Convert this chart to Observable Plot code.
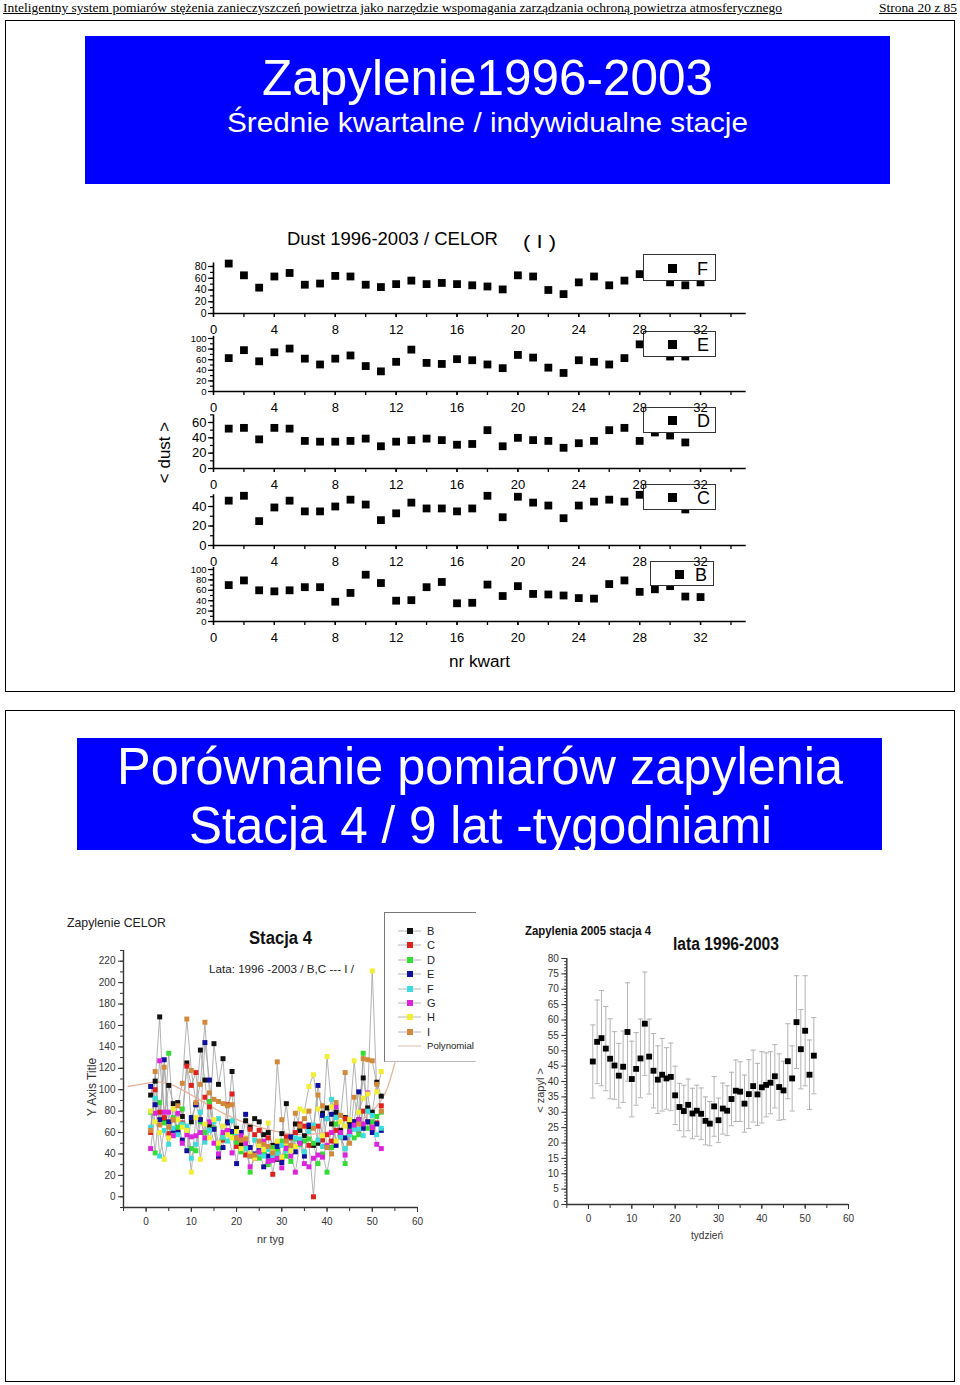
<!DOCTYPE html>
<html><head><meta charset="utf-8">
<script src="https://cdn.jsdelivr.net/npm/d3@7"></script>
<script src="https://cdn.jsdelivr.net/npm/@observablehq/plot@0.6"></script>
<style>
body{margin:0;background:#fff;}
#page{position:relative;width:960px;height:1385px;overflow:hidden;font-family:"Liberation Sans",Arial,sans-serif;}
.abs{position:absolute;white-space:nowrap;line-height:1;}
</style></head>
<body><div id="page"></div>
<script>
// ---------------- DATA ----------------
// Top chart: quarterly means (nr kwart 1..32), null = hidden behind legend
const stationF = [85,65,44,63,69,49,51,64,63,49,45,50,56,50,52,50,48,46,41,65,63,40,33,53,63,48,56,67,null,53,48,53];
const stationE = [63,78,57,74,81,62,51,62,68,48,38,56,79,54,52,61,59,51,44,69,64,45,35,59,56,51,63,89,null,66,66,null];
const stationD = [52,53,38,53,52,36,35,35,36,39,29,35,37,39,37,31,32,50,29,40,37,36,27,33,36,50,53,36,47,43,34,null];
const stationC = [46,51,25,39,46,35,35,40,47,42,26,33,44,38,38,35,38,51,29,50,44,41,28,41,45,47,45,52,null,null,37,null];
const stationB = [70,79,60,58,60,66,66,38,55,90,74,40,41,66,76,35,36,71,49,68,53,52,50,45,44,72,79,57,62,68,48,47];
const quarterTicks = [0,4,8,12,16,20,24,28,32];
const quarterMinor = [0,2,4,6,8,10,12,14,16,18,20,22,24,26,28,30,32,34];

// Bottom-left chart: weekly values (nr tyg 1..52) per station B..I
const seriesNames = ["B","C","D","E","F","G","H","I"];
const seriesColors = ["#111111","#e0221f","#36dc36","#10109e","#3adcdc","#dc24dc","#f2ee34","#d28a3a"];
const stB = [95,108,168,73,104,87,88,75,125,70,86,137,109,67,143,105,129,70,117,64,49,71,65,73,70,58,60,48,35,59,87,46,68,62,57,65,48,50,78,83,68,79,62,74,68,70,72,111,83,79,107,94];
const stC = [60,100,79,74,59,72,62,69,122,104,116,72,93,84,64,37,53,86,96,47,53,39,63,58,62,51,55,21,50,36,56,55,60,68,66,48,0,66,53,58,52,62,56,73,60,66,62,80,70,65,69,85];
const stD = [79,41,88,69,134,74,65,82,62,45,43,70,60,89,64,46,55,61,60,51,42,50,23,38,36,42,30,46,43,52,38,33,54,49,52,54,50,31,40,23,46,68,56,31,62,55,58,134,64,70,75,79];
const stE = [103,86,72,128,70,62,60,53,43,74,86,72,144,109,63,38,46,69,61,31,60,77,46,40,43,28,38,40,47,32,48,56,42,51,38,67,65,104,76,73,77,48,58,55,66,70,98,64,70,60,68,62];
const stF = [65,92,38,62,49,64,58,68,66,36,49,79,51,62,70,73,56,52,71,58,54,45,38,53,40,38,44,37,40,48,43,44,55,54,42,61,67,53,47,73,91,74,56,45,58,63,63,57,80,76,58,64];
const stG = [45,78,127,79,79,57,78,50,58,56,57,60,55,70,50,40,60,62,41,55,57,50,28,36,42,52,33,34,36,27,45,38,23,50,31,28,36,39,37,48,60,84,60,39,61,67,72,68,97,65,49,45];
const stH = [80,70,60,35,55,82,72,65,62,23,74,35,68,55,72,50,66,58,55,61,45,55,40,36,48,44,69,42,52,37,50,43,47,82,80,103,114,82,57,131,84,52,70,66,72,127,79,92,96,211,98,117];
const stI = [62,117,67,121,65,72,85,106,166,118,88,105,163,97,91,89,87,85,86,55,53,54,38,39,52,49,47,41,126,72,52,48,78,66,73,80,64,95,85,46,40,88,76,116,50,93,68,129,128,127,105,80];
const polyX = [-4,0,3,6,10,14,18,22,26,30,34,38,42,46,50,53,55];
const polyY = [103,106,107,104,95,85,76,69,64,60,58,59,62,68,80,98,125];
const weekTicks = [0,10,20,30,40,50,60];
const weekMinor = [-5,0,5,10,15,20,25,30,35,40,45,50,55,60];
const dustTicks = [0,20,40,60,80,100,120,140,160,180,200,220];
const dustMinor = [-10,0,10,20,30,40,50,60,70,80,90,100,110,120,130,140,150,160,170,180,190,200,210,220,230];

// Bottom-right chart: weekly mean and standard deviation (tydzień 1..52)
const meanZapyl = [46.5,52.9,54.1,50.7,47.4,45.2,41.9,44.8,56.1,40.8,44.1,47.5,58.8,48.1,43.5,40.6,42.2,41,41.5,35.5,31.7,30.4,32.4,29.6,30.5,29.5,27.2,26.3,31.9,27.4,31.2,30.5,34.3,37,36.7,32.8,35.9,38.5,35.8,38.1,38.9,39.6,41.7,38.2,37.1,46.6,41,59.3,50.5,56.5,42.2,48.4];
const sdZapyl = [11.9,13.6,15.5,13.7,13,11,10.5,11.6,16,12.3,11.8,12.8,16.8,12.2,12.1,11,11.8,10,11,9.5,7.7,8.4,8.4,8.2,8.3,8.4,7.8,7.2,9.7,7.2,8.3,8.1,8.7,10,9.7,9.3,11.2,11.7,10.1,11.6,10.4,10.1,10.3,10.8,9.5,12.2,10.6,15.1,12.9,17.9,11.3,12.4];
const zapylTicks = [0,5,10,15,20,25,30,35,40,45,50,55,60,65,70,75,80];
const zapylMinor = d3.range(0,81,1);

// ---------------- LAYOUT HELPERS ----------------
const page = document.getElementById("page");
const SANS = '"Liberation Sans", Arial, sans-serif';
function place(el, left, top){el.style.position="absolute";el.style.left=left+"px";el.style.top=top+"px";page.append(el);return el;}
function txt(str, o){
  const d=document.createElement("div");d.className="abs";d.textContent=str;
  d.style.fontSize=o.size+"px";d.style.fontFamily=o.family||SANS;
  if(o.bold)d.style.fontWeight="bold";
  d.style.color=o.color||"#000";
  if(o.underline)d.style.textDecoration="underline";
  place(d,o.x,o.y-0.86*o.size);
  if(o.w){const w=d.getBoundingClientRect().width;d.style.transformOrigin="0 0";d.style.transform=`scaleX(${o.w/w})`;}
  return d;
}
function vtxt(str,o){
  const d=document.createElement("div");d.className="abs";d.textContent=str;
  d.style.fontSize=o.size+"px";d.style.fontFamily=SANS;d.style.color=o.color||"#000";
  page.append(d);d.style.position="absolute";
  const r=d.getBoundingClientRect();
  d.style.left=(o.cx-r.width/2)+"px";d.style.top=(o.cy-r.height/2)+"px";
  d.style.transform="rotate(-90deg)";
  return d;
}
function box(l,t,w,h,css){const d=document.createElement("div");d.style.width=w+"px";d.style.height=h+"px";Object.assign(d.style,css);return place(d,l,t);}

// page header
txt("Inteligentny system pomiarów stężenia zanieczyszczeń powietrza jako narzędzie wspomagania zarządzania ochroną powietrza atmosferycznego",{x:3,y:12,size:13,family:'"Liberation Serif", "Times New Roman", serif',underline:true,w:779});
txt("Strona 20 z 85",{x:879,y:12,size:13,family:'"Liberation Serif", "Times New Roman", serif',underline:true,w:78});

// frames and banners
box(5,20,948,670,{border:"1.5px solid #000"});
box(5,710,948,670,{border:"1.5px solid #000"});
box(85,36,805,148,{background:"#0000ff"});
box(77,738,805,112,{background:"#0000ff"});
txt("Zapylenie1996-2003",{x:262,y:96,size:50,color:"#fff",w:451});
txt("Średnie kwartalne / indywidualne stacje",{x:227,y:133,size:28,color:"#fff",w:521});
txt("Porównanie pomiarów  zapylenia",{x:117,y:785,size:52,color:"#fff",w:726});
txt("Stacja 4 / 9 lat -tygodniami",{x:189,y:844,size:52,color:"#fff",w:583});

// ---------------- TOP CHART ----------------
txt("Dust 1996-2003 / CELOR",{x:287,y:245,size:19,w:211});
txt("( I )",{x:523,y:248,size:19,w:33});
txt("nr kwart",{x:449,y:668,size:16,w:61});
vtxt("< dust >",{cx:165,cy:452,size:17});

const panels = [
  {name:"F",values:stationF,ticks:[0,20,40,60,80],minor:[0,10,20,30,40,50,60,70,80],max:80,axisTop:86,y0:313,yTop:266,fs:10.5,box:[643,254,73,27]},
  {name:"E",values:stationE,ticks:[0,20,40,60,80,100],minor:[0,10,20,30,40,50,60,70,80,90,100],max:100,axisTop:104,y0:391,yTop:338,fs:9.5,box:[643,331,73,26]},
  {name:"D",values:stationD,ticks:[0,20,40,60],minor:[0,10,20,30,40,50,60,70],max:60,axisTop:70,y0:468,yTop:422,fs:13,box:[643,407,73,26]},
  {name:"C",values:stationC,ticks:[0,20,40],minor:[0,10,20,30,40,50],max:40,axisTop:52,y0:545,yTop:506,fs:13,box:[643,484,73,26]},
  {name:"B",values:stationB,ticks:[0,20,40,60,80,100],minor:[0,10,20,30,40,50,60,70,80,90,100],max:100,axisTop:104,y0:621,yTop:569,fs:9.5,box:[650,561,64,25]}
];
function panelPlot(P, marks, noAxes){
  const mt=26, mb=30, h=P.y0-P.yTop;
  const svg=Plot.plot({
    width:620,height:h+mt+mb,marginLeft:63,marginRight:24.3,marginTop:mt,marginBottom:mb,
    x:{domain:[0,35],axis:noAxes?null:undefined},y:{domain:[0,P.max],axis:noAxes?null:undefined},
    style:{background:"transparent",fontFamily:SANS,fontSize:"13px",color:"#000",overflow:"visible"},
    marks});
  return place(svg,150,P.yTop-mt);
}
// layer 1: points
for(const P of panels){
  const data=P.values.map((v,i)=>({q:i+1,v})).filter(d=>d.v!=null);
  panelPlot(P,[Plot.dot(data,{x:"q",y:"v",symbol:"square",fill:"#000",r:4.4})],true);
}
// layer 2: legend boxes
for(const P of panels){
  const b=box(P.box[0],P.box[1],P.box[2],P.box[3],{background:"#fff",border:"1.2px solid #333",boxSizing:"border-box"});
  const sq=document.createElement("div");Object.assign(sq.style,{position:"absolute",left:"24px",top:(P.box[3]/2-5)+"px",width:"9px",height:"9px",background:"#000"});b.append(sq);
  const lab=document.createElement("div");lab.textContent=P.name;Object.assign(lab.style,{position:"absolute",left:(P.box[2]-20)+"px",top:(P.box[3]/2-10)+"px",fontSize:"18px",fontFamily:SANS,lineHeight:"20px"});b.append(lab);
}
// layer 3: axes (drawn over the legend boxes, as in the original)
for(const P of panels){
  panelPlot(P,[
    Plot.ruleY([0],{stroke:"#000",strokeWidth:1.6}),
    Plot.ruleX([0],{y1:0,y2:P.axisTop,stroke:"#000",strokeWidth:1.6}),
    Plot.axisX(quarterMinor,{tickSize:4,tickFormat:()=>"",label:null,strokeWidth:1.3}),
    Plot.axisX(quarterTicks,{tickSize:4,tickPadding:7,label:null,strokeWidth:1.3}),
    Plot.axisY(P.minor,{tickSize:3,tickFormat:()=>"",label:null,strokeWidth:1.2}),
    Plot.axisY(P.ticks,{tickSize:5,tickPadding:2,label:null,strokeWidth:1.2,fontSize:P.fs})
  ],false);
}

// ---------------- BOTTOM LEFT CHART ----------------
txt("Zapylenie CELOR",{x:67,y:927,size:13,w:99,color:"#222"});
txt("Stacja 4",{x:249,y:944,size:18,bold:true,w:63,color:"#111"});
txt("Lata: 1996 -2003  / B,C --- I /",{x:209,y:974,size:11.5,w:145,color:"#222"});
txt("nr tyg",{x:257,y:1243,size:11,w:27,color:"#333"});
vtxt("Y Axis Title",{cx:92,cy:1087,size:12,color:"#333"});

const stations=[stB,stC,stD,stE,stF,stG,stH,stI];
const weekly=[];
stations.forEach((arr,k)=>arr.forEach((v,i)=>weekly.push({s:seriesNames[k],w:i+1,v})));
const poly=polyX.map((x,i)=>({x,y:polyY[i]}));
const left=Plot.plot({
  width:382,height:317,marginLeft:78,marginRight:10,marginTop:20,marginBottom:40,
  x:{domain:[-5,60]},y:{domain:[-10,230]},
  color:{domain:seriesNames,range:seriesColors},
  style:{background:"transparent",fontFamily:SANS,fontSize:"10px",color:"#333",overflow:"visible"},
  marks:[
    Plot.line(weekly,{x:"w",y:"v",z:"s",stroke:"#a0a0a0",strokeWidth:0.8}),
    Plot.line(poly,{x:"x",y:"y",curve:"natural",stroke:"#e8b29a",strokeWidth:1.3}),
    Plot.dot(weekly,{x:"w",y:"v",symbol:"square",fill:"s",r:2.8}),
    Plot.ruleY([-10],{stroke:"#333",strokeWidth:1.4}),
    Plot.ruleX([-5],{y1:-10,y2:230,stroke:"#333",strokeWidth:1.4}),
    Plot.axisX(weekMinor,{y:-10,tickSize:4,tickFormat:()=>"",label:null}),
    Plot.axisX(weekTicks,{tickSize:5,tickPadding:5,label:null}),
    Plot.axisY(dustMinor,{x:-5,tickSize:3,tickFormat:()=>"",label:null}),
    Plot.axisY(dustTicks,{tickSize:5,tickPadding:3,label:null})
  ]});
place(left,45,930);

// legend of left chart
const lg=box(384,912,92,150,{borderLeft:"1px solid #777",borderTop:"1px solid #777",borderBottom:"1px solid #bbb",background:"#fff",overflow:"hidden",boxSizing:"border-box"});
const legendItems=seriesNames.map((n,i)=>({n,c:seriesColors[i]})).concat([{n:"Polynomial",c:null}]);
legendItems.forEach((it,i)=>{
  const row=document.createElement("div");
  Object.assign(row.style,{position:"absolute",left:"12px",top:(11+i*14.4)+"px",height:"14px",whiteSpace:"nowrap",fontSize:it.c?"11px":"9.6px",fontFamily:SANS,color:"#222",lineHeight:"14px"});
  const sw=document.createElementNS("http://www.w3.org/2000/svg","svg");sw.setAttribute("width","26");sw.setAttribute("height","14");sw.style.verticalAlign="top";
  sw.innerHTML=it.c?`<line x1="1" x2="24" y1="7" y2="7" stroke="#b8b8b8" stroke-width="1"/><rect x="10" y="4" width="6" height="6" fill="${it.c}"/>`:`<line x1="1" x2="24" y1="7" y2="7" stroke="#e8c8b8" stroke-width="1.2"/>`;
  row.append(sw);const t=document.createElement("span");t.textContent=it.n;t.style.marginLeft="4px";row.append(t);lg.append(row);
});

// ---------------- BOTTOM RIGHT CHART ----------------
txt("Zapylenia 2005 stacja 4",{x:525,y:935,size:12,bold:true,w:126,color:"#111"});
txt("lata 1996-2003",{x:673,y:950,size:18,bold:true,w:106,color:"#111"});
txt("tydzień",{x:691,y:1239,size:11,w:32,color:"#333"});
vtxt("< zapyl >",{cx:540,cy:1090,size:11,color:"#333"});

const wk=meanZapyl.map((m,i)=>({w:i+1,m,lo:m-sdZapyl[i],hi:m+sdZapyl[i]}));
const right=Plot.plot({
  width:368,height:299,marginLeft:76.3,marginRight:10,marginTop:18,marginBottom:35,
  x:{domain:[-5,60]},y:{domain:[0,80]},
  style:{background:"transparent",fontFamily:SANS,fontSize:"10px",color:"#333",overflow:"visible"},
  marks:[
    Plot.ruleX(wk,{x:"w",y1:"lo",y2:"hi",stroke:"#b4b4b4",strokeWidth:1}),
    Plot.link(wk,{x1:d=>d.w-0.6,x2:d=>d.w+0.6,y1:"hi",y2:"hi",stroke:"#b4b4b4",strokeWidth:1}),
    Plot.link(wk,{x1:d=>d.w-0.6,x2:d=>d.w+0.6,y1:"lo",y2:"lo",stroke:"#b4b4b4",strokeWidth:1}),
    Plot.dot(wk,{x:"w",y:"m",symbol:"square",fill:"#000",r:3.3}),
    Plot.ruleY([0],{stroke:"#333",strokeWidth:1.4}),
    Plot.ruleX([-5],{y1:0,y2:80,stroke:"#333",strokeWidth:1.4}),
    Plot.axisX(weekMinor,{tickSize:4,tickFormat:()=>"",label:null}),
    Plot.axisX(weekTicks,{tickSize:5,tickPadding:5,label:null}),
    Plot.axisY(zapylMinor,{x:-5,tickSize:2,tickFormat:()=>"",label:null}),
    Plot.axisY(zapylTicks,{tickSize:5,tickPadding:3,label:null})
  ]});
place(right,490,940);
</script></body></html>
